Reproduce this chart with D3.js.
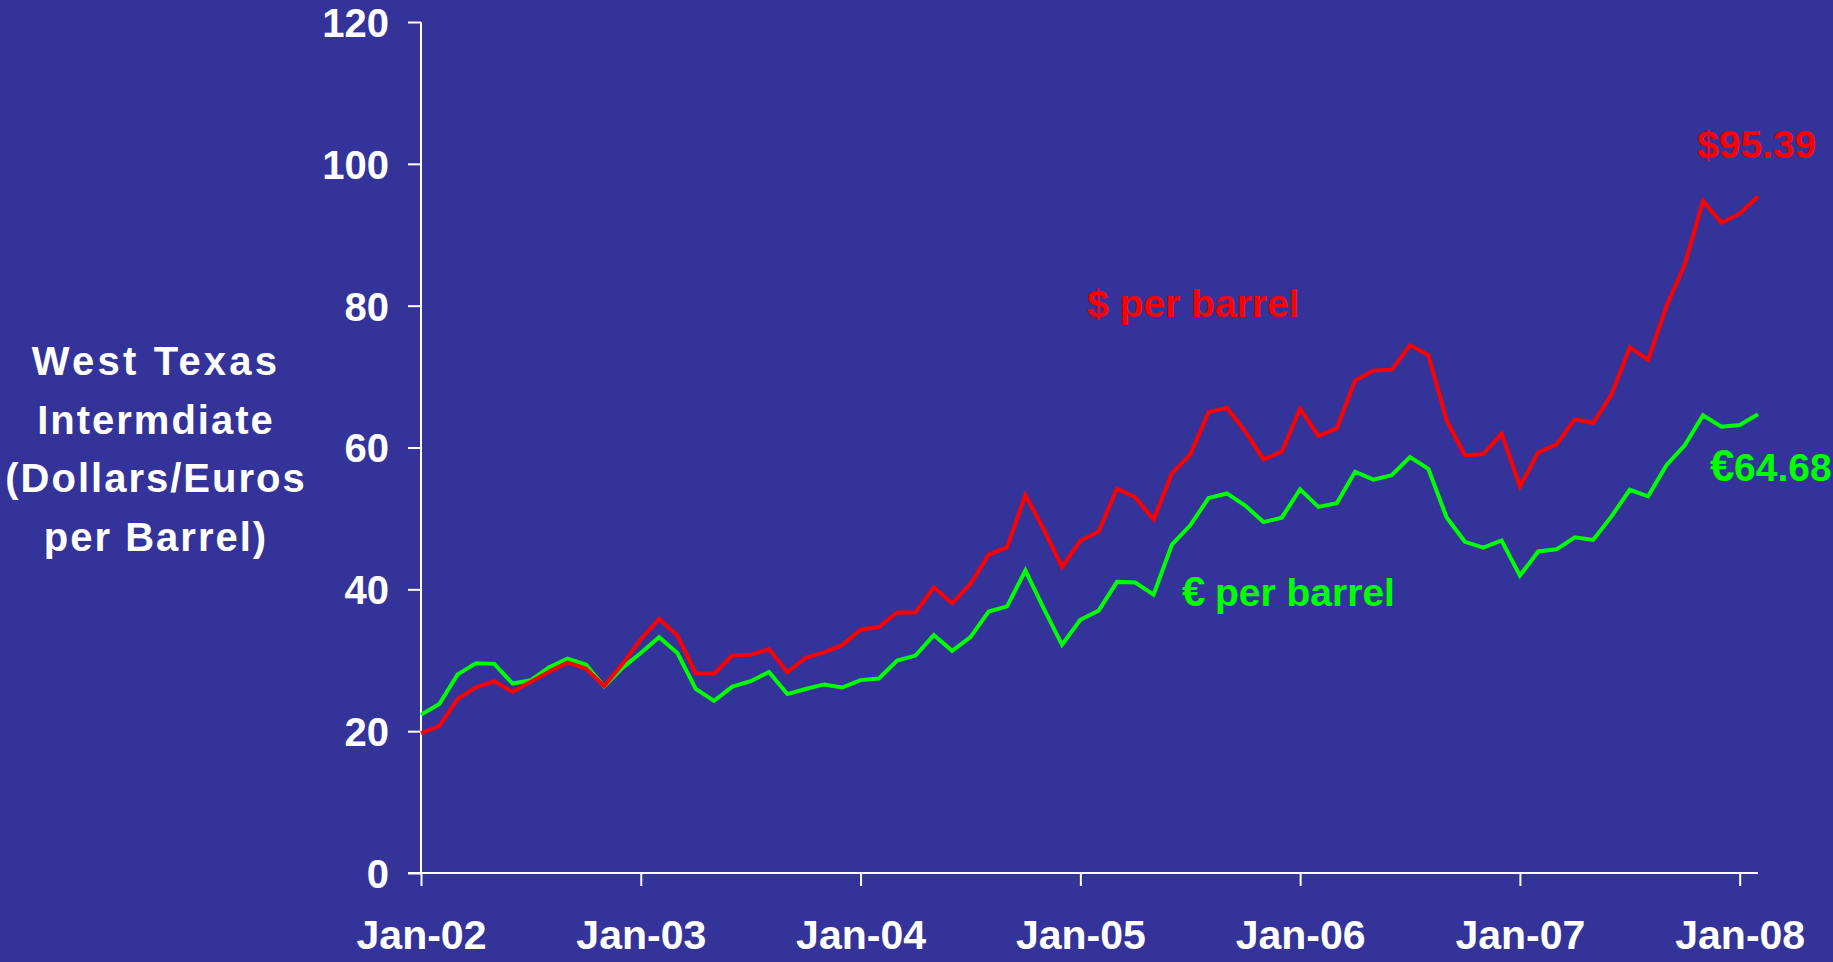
<!DOCTYPE html>
<html>
<head>
<meta charset="utf-8">
<script src="https://cdn.jsdelivr.net/npm/d3@7"></script>
<style>
  html, body { margin: 0; padding: 0; background: #333399; }
  svg { display: block; }
  text { font-family: "Liberation Sans", Arial, sans-serif; font-weight: bold; }
</style>
</head>
<body>
<svg id="chart" width="1833" height="962"></svg>
<script>
// Monthly observations, Jan-02 .. Feb-08
const months = ["Jan-02","Feb-02","Mar-02","Apr-02","May-02","Jun-02","Jul-02","Aug-02","Sep-02","Oct-02","Nov-02","Dec-02",
  "Jan-03","Feb-03","Mar-03","Apr-03","May-03","Jun-03","Jul-03","Aug-03","Sep-03","Oct-03","Nov-03","Dec-03",
  "Jan-04","Feb-04","Mar-04","Apr-04","May-04","Jun-04","Jul-04","Aug-04","Sep-04","Oct-04","Nov-04","Dec-04",
  "Jan-05","Feb-05","Mar-05","Apr-05","May-05","Jun-05","Jul-05","Aug-05","Sep-05","Oct-05","Nov-05","Dec-05",
  "Jan-06","Feb-06","Mar-06","Apr-06","May-06","Jun-06","Jul-06","Aug-06","Sep-06","Oct-06","Nov-06","Dec-06",
  "Jan-07","Feb-07","Mar-07","Apr-07","May-07","Jun-07","Jul-07","Aug-07","Sep-07","Oct-07","Nov-07","Dec-07",
  "Jan-08","Feb-08"];

const dollarsPerBarrel = [19.71,20.72,24.53,26.18,27.04,25.52,26.97,28.39,29.66,28.84,26.35,29.46,
  32.95,35.83,33.51,28.17,28.11,30.66,30.76,31.57,28.31,30.34,31.11,32.13,
  34.31,34.69,36.74,36.75,40.28,38.03,40.78,44.90,45.94,53.28,48.47,43.15,
  46.84,48.15,54.19,52.98,49.83,56.35,59.00,64.99,65.59,62.26,58.32,59.41,
  65.49,61.63,62.69,69.44,70.84,70.95,74.41,73.04,63.80,58.89,59.08,61.96,
  54.51,59.28,60.44,63.98,63.46,67.49,74.12,72.36,79.92,85.80,94.77,91.69,
  92.97,95.39];

const eurosPerBarrel = [22.31,23.82,28.01,29.56,29.49,26.71,27.18,29.03,30.24,29.40,26.31,28.93,
  31.02,33.26,31.01,25.97,24.27,26.29,27.05,28.34,25.23,25.95,26.59,26.15,
  27.20,27.43,29.96,30.66,33.55,31.33,33.25,36.88,37.60,42.66,37.31,32.18,
  35.70,37.00,41.05,40.95,39.25,46.32,49.02,52.87,53.52,51.82,49.48,50.11,
  54.11,51.63,52.15,56.59,55.47,56.09,58.66,57.01,50.13,46.70,45.87,46.89,
  41.93,45.34,45.64,47.34,46.97,50.29,54.04,53.12,57.51,60.31,64.54,62.93,
  63.17,64.68];

const xTickLabels = ["Jan-02","Jan-03","Jan-04","Jan-05","Jan-06","Jan-07","Jan-08"];
const yTickValues = [0,20,40,60,80,100,120];
const yTitleLines = ["West Texas","Intermdiate","(Dollars/Euros","per Barrel)"];

const svg = d3.select("#chart");
svg.append("rect").attr("width",1833).attr("height",962).attr("fill","#333399");

const x = d3.scaleLinear().domain([0, months.length - 1]).range([421, 1758]);
const y = d3.scaleLinear().domain([0, 120]).range([873, 22]);

// Y axis
const yAxis = svg.append("g").attr("transform","translate(421,0)")
  .call(d3.axisLeft(y).tickValues(yTickValues).tickSize(13).tickPadding(19).tickFormat(d3.format("d")));
yAxis.select(".domain").attr("stroke","#ffffff").attr("stroke-width",2).attr("d","M0,22V873");
yAxis.selectAll(".tick line").attr("stroke","#ffffff").attr("stroke-width",2);
yAxis.selectAll(".tick text").attr("fill","#ffffff").attr("font-size",40)
  .attr("font-family","'Liberation Sans', Arial, sans-serif").attr("font-weight","bold").attr("dy","0.36em");

// X axis
const xTickIdx = xTickLabels.map(l => months.indexOf(l));
const xAxis = svg.append("g").attr("transform","translate(0,873)")
  .call(d3.axisBottom(x).tickValues(xTickIdx).tickSize(13).tickPadding(34).tickFormat(i => months[i]));
xAxis.select(".domain").attr("stroke","#ffffff").attr("stroke-width",2).attr("d","M408,0H1758");
xAxis.selectAll(".tick line").attr("stroke","#ffffff").attr("stroke-width",2);
xAxis.selectAll(".tick text").attr("fill","#ffffff").attr("font-size",41)
  .attr("font-family","'Liberation Sans', Arial, sans-serif").attr("font-weight","bold");

// Lines
const line = d3.line().x((d,i) => x(i)).y(d => y(d));
svg.append("path").datum(eurosPerBarrel).attr("d", line)
  .attr("fill","none").attr("stroke","#00ff00").attr("stroke-width",4).attr("stroke-linejoin","miter");
svg.append("path").datum(dollarsPerBarrel).attr("d", line)
  .attr("fill","none").attr("stroke","#ff0000").attr("stroke-width",4).attr("stroke-linejoin","miter");

// Y title
const yt = svg.append("text").attr("text-anchor","middle").attr("fill","#ffffff")
  .attr("font-size",40).attr("letter-spacing","2px");
yTitleLines.forEach((t,i) => {
  const ts = yt.append("tspan").attr("x",156).attr("y",375 + i*58.5).text(t);
  if (i === 0) ts.attr("letter-spacing","3.2px");
});

// Annotations
svg.append("text").attr("x",1087).attr("y",317).attr("fill","#ff0000").attr("font-size",39).text("$ per barrel");
svg.append("text").attr("x",1697).attr("y",158).attr("fill","#ff0000").attr("font-size",39)
  .text("$" + dollarsPerBarrel[dollarsPerBarrel.length-1].toFixed(2));

const eLab = svg.append("text").attr("y",606).attr("fill","#00ff00").attr("font-size",39);
eLab.append("tspan").attr("x",1182).attr("font-size",42).text("€");
eLab.append("tspan").attr("x",1215).text("per barrel");

const eVal = svg.append("text").attr("y",481).attr("fill","#00ff00").attr("font-size",39);
eVal.append("tspan").attr("x",1710).attr("font-size",44).text("€");
eVal.append("tspan").attr("x",1734).text(eurosPerBarrel[eurosPerBarrel.length-1].toFixed(2));
</script>
</body>
</html>
